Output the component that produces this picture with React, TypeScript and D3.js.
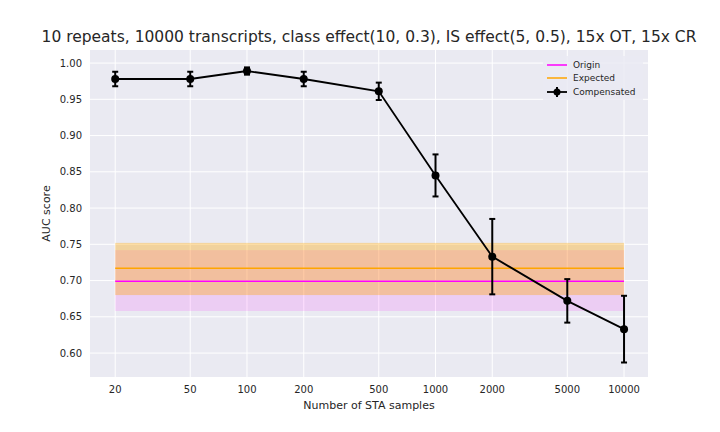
import React from 'react';
import * as d3 from 'd3';

const samples = [20, 50, 100, 200, 500, 1000, 2000, 5000, 10000];
const compensated = [0.978, 0.978, 0.989, 0.978, 0.961, 0.845, 0.733, 0.672, 0.633];
const compErr = [0.01, 0.01, 0.005, 0.01, 0.012, 0.029, 0.052, 0.03, 0.046];
const origin = 0.699;
const originBand = [0.658, 0.742];
const expected = 0.717;
const expectedBand = [0.68, 0.752];
const yTicks = [0.6, 0.65, 0.7, 0.75, 0.8, 0.85, 0.9, 0.95, 1.0];

const W = 720, H = 432;
const M = { left: 90, right: 72, top: 50, bottom: 55 };

export default function App() {
  const x = d3.scaleLog().domain([14.7, 13400]).range([M.left, W - M.right]);
  const y = d3.scaleLinear().domain([0.567, 1.018]).range([H - M.bottom, M.top]);
  const x0 = x(samples[0]), x1 = x(samples[samples.length - 1]);
  const line = d3.line<number>().x((_, i) => x(samples[i])).y(d => y(d));
  const font = 'DejaVu Sans, sans-serif';
  return (
    <svg width={W} height={H} style={{ position: 'absolute', left: 0, top: 0, fontFamily: font }}>
      <rect width={W} height={H} fill="#fff" />
      <rect x={M.left} y={M.top} width={W - M.left - M.right} height={H - M.top - M.bottom} fill="#EAEAF2" />
      {yTicks.map(t => (
        <g key={t}>
          <line x1={M.left} x2={W - M.right} y1={y(t)} y2={y(t)} stroke="#fff" />
          <text x={M.left - 8} y={y(t)} dy="0.35em" textAnchor="end" fontSize={10} fill="#262626">{t.toFixed(2)}</text>
        </g>
      ))}
      {samples.map(s => (
        <g key={s}>
          <line x1={x(s)} x2={x(s)} y1={M.top} y2={H - M.bottom} stroke="#fff" />
          <text x={x(s)} y={H - M.bottom + 16} textAnchor="middle" fontSize={10} fill="#262626">{s}</text>
        </g>
      ))}
      <rect x={x0} width={x1 - x0} y={y(originBand[1])} height={y(originBand[0]) - y(originBand[1])} fill="#ff00ff" opacity={0.12} />
      <rect x={x0} width={x1 - x0} y={y(expectedBand[1])} height={y(expectedBand[0]) - y(expectedBand[1])} fill="#ffa500" opacity={0.35} />
      <line x1={x0} x2={x1} y1={y(origin)} y2={y(origin)} stroke="#ff00ff" strokeWidth={1.5} />
      <line x1={x0} x2={x1} y1={y(expected)} y2={y(expected)} stroke="#ffa500" strokeWidth={1.5} />
      <path d={line(compensated) ?? ''} fill="none" stroke="#000" strokeWidth={1.8} />
      {compensated.map((v, i) => {
        const cx = x(samples[i]);
        return (
          <g key={i} stroke="#000" strokeWidth={2}>
            <line x1={cx} x2={cx} y1={y(v - compErr[i])} y2={y(v + compErr[i])} />
            <line x1={cx - 3} x2={cx + 3} y1={y(v - compErr[i])} y2={y(v - compErr[i])} />
            <line x1={cx - 3} x2={cx + 3} y1={y(v + compErr[i])} y2={y(v + compErr[i])} />
            <circle cx={cx} cy={y(v)} r={4} fill="#000" stroke="none" />
          </g>
        );
      })}
      <g transform={`translate(${W - M.right - 105},${M.top + 6})`} fontSize={9} fill="#262626">
        <rect x={0} y={0} width={100} height={44} fill="#EAEAF2" opacity={0.8} />
        <line x1={4} x2={24} y1={9} y2={9} stroke="#ff00ff" strokeWidth={1.5} />
        <text x={30} y={12}>Origin</text>
        <line x1={4} x2={24} y1={22} y2={22} stroke="#ffa500" strokeWidth={1.5} />
        <text x={30} y={25}>Expected</text>
        <line x1={4} x2={24} y1={36} y2={36} stroke="#000" strokeWidth={1.8} />
        <line x1={14} x2={14} y1={31} y2={41} stroke="#000" strokeWidth={2} />
        <circle cx={14} cy={36} r={3.5} fill="#000" />
        <text x={30} y={39}>Compensated</text>
      </g>
      <text x={(M.left + W - M.right) / 2} y={M.top - 8} textAnchor="middle" fontSize={15.5} fill="#262626">
        10 repeats, 10000 transcripts, class effect(10, 0.3), IS effect(5, 0.5), 15x OT, 15x CR
      </text>
      <text x={(M.left + W - M.right) / 2} y={H - M.bottom + 32} textAnchor="middle" fontSize={11} fill="#262626">Number of STA samples</text>
      <text transform={`translate(${M.left - 40},${(M.top + H - M.bottom) / 2}) rotate(-90)`} textAnchor="middle" fontSize={11} fill="#262626">AUC score</text>
    </svg>
  );
}
